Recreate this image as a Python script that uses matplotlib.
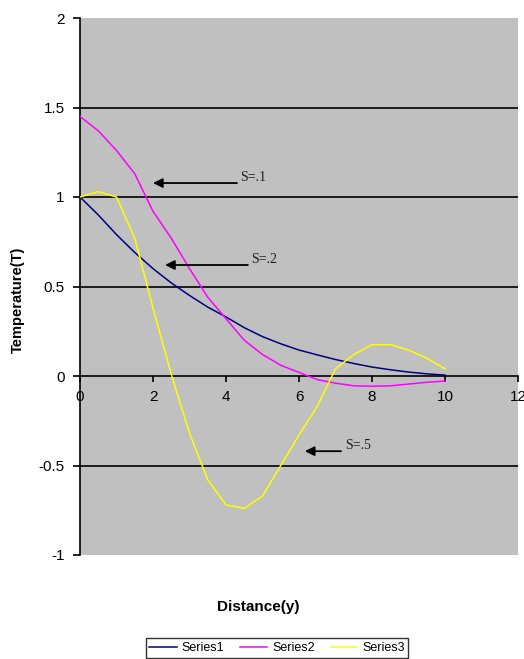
import matplotlib
matplotlib.use("Agg")
import matplotlib.pyplot as plt

distance = [0, 0.5, 1, 1.5, 2, 2.5, 3, 3.5, 4, 4.5, 5, 5.5, 6, 6.5, 7, 7.5, 8, 8.5, 9, 9.5, 10]
series1 = [1.0, 0.9, 0.79, 0.69, 0.6, 0.52, 0.45, 0.385, 0.33, 0.27, 0.22, 0.18, 0.145, 0.118,
           0.092, 0.07, 0.05, 0.035, 0.022, 0.012, 0.005]
series2 = [1.45, 1.37, 1.26, 1.13, 0.92, 0.77, 0.6, 0.44, 0.32, 0.2, 0.12, 0.06, 0.02, -0.02,
           -0.04, -0.055, -0.057, -0.055, -0.045, -0.035, -0.028]
series3 = [1.0, 1.03, 1.0, 0.77, 0.38, 0.01, -0.32, -0.58, -0.72, -0.74, -0.67, -0.5, -0.33,
           -0.17, 0.04, 0.12, 0.175, 0.175, 0.145, 0.1, 0.04]
series_names = ["Series1", "Series2", "Series3"]
series_colors = ["#000080", "#FF00FF", "#FFFF00"]

xticks = [0, 2, 4, 6, 8, 10, 12]
yticks = [-1, -0.5, 0, 0.5, 1, 1.5, 2]
ytick_labels = ["-1", "-0.5", "0", "0.5", "1", "1.5", "2"]

notes = [("S=.1", 2.0, 1.078, 4.3, 1.078),
         ("S=.2", 2.33, 0.62, 4.6, 0.62),
         ("S=.5", 6.16, -0.42, 7.15, -0.42)]

plt.rcParams['font.family'] = ['Liberation Sans', 'DejaVu Sans']

fig = plt.figure(figsize=(5.24, 6.59), dpi=100)
ax = fig.add_axes([80/524, 1-555/659, (518-80)/524, (555-18)/659])
ax.set_facecolor("#C0C0C0")

for yv in [1.5, 1, 0.5, -0.5]:
    ax.axhline(yv, color="black", lw=1.2, zorder=1)

for vals, name, col in zip([series1, series2, series3], series_names, series_colors):
    ax.plot(distance, vals, color=col, lw=1.1, label=name, zorder=3)

ax.set_xlim(0, 12)
ax.set_ylim(-1, 2)

for s in ["top", "right"]:
    ax.spines[s].set_visible(False)
ax.spines["bottom"].set_position(("data", 0))
ax.spines["bottom"].set_linewidth(1.2)
ax.spines["left"].set_linewidth(1.2)

ax.set_xticks(xticks)
ax.set_xticklabels([str(v) for v in xticks])
ax.set_yticks(yticks)
ax.set_yticklabels(ytick_labels)
ax.tick_params(axis="x", direction="out", length=4, width=1.2, labelsize=11, pad=6)
ax.tick_params(axis="y", direction="out", length=5, width=1.2, labelsize=11, pad=6)

for txt, hx, hy, tx, ty in notes:
    ax.annotate("", xy=(hx, hy), xytext=(tx, hy),
                arrowprops=dict(arrowstyle="-|>", color="black", lw=1.3,
                                mutation_scale=14, shrinkA=0, shrinkB=0), zorder=4)
    ax.text(tx + 0.1, ty + 0.03, txt, fontsize=10, family="Liberation Serif",
            ha="left", va="center", color="#202020", zorder=4)

fig.text(18/524, 1-300/659, "Temperature(T)", rotation=90, ha="center", va="center",
         fontsize=10.5, fontweight="bold")
fig.text(258/524, 1-607/659, "Distance(y)", ha="center", va="center",
         fontsize=11, fontweight="bold")

leg = fig.legend(loc="center", bbox_to_anchor=(277/524, 1-648/659), ncol=3, fontsize=9,
                 frameon=True, fancybox=False, edgecolor="black", handlelength=2.2,
                 columnspacing=1.2, handletextpad=0.4, borderpad=0.3)
leg.get_frame().set_linewidth(1.0)

fig.savefig("out.png", dpi=100, facecolor="white")
